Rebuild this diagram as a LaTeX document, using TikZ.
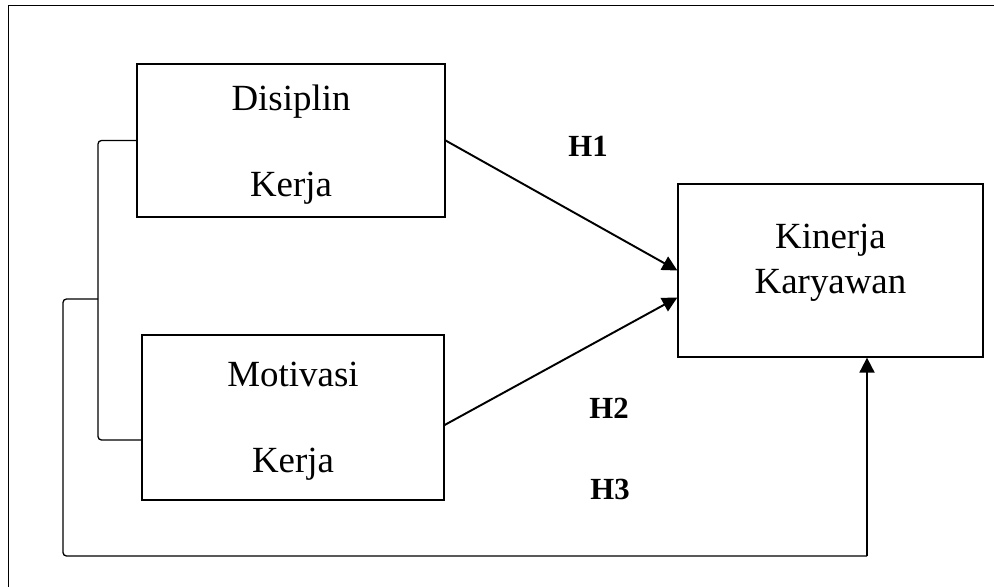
\documentclass[tikz,border=0pt]{standalone}
\usepackage{fontspec}
\setmainfont{Liberation Serif}
\usetikzlibrary{arrows.meta,calc}

\begin{document}
\begin{tikzpicture}[x=0.02cm,y=-0.02cm,
    kotak/.style={draw,line width=0.75pt,inner sep=0pt,align=center,
        font=\fontsize{21}{25.5}\selectfont},
    garis/.style={line width=0.75pt,rounded corners=2pt},
    panah/.style={line width=1.1pt,-{Triangle[length=0.3cm,width=0.3cm]}},
    hipotesis/.style={font=\fontsize{17.5}{21}\selectfont\bfseries}]
        \useasboundingbox (0,0) rectangle (994,586);
        \clip (0,0) rectangle (994,586);
        %Bingkai
        \draw[line width=1.1pt] (8.5,5.5) rectangle (1010,600);
        %Kotak variabel
        \node[kotak,minimum width=6.16cm,minimum height=3.06cm,text depth=0pt]
            (disiplin) at (291,140.5) {Disiplin\\[23.4pt]Kerja};
        \node[kotak,minimum width=6.04cm,minimum height=3.3cm,text depth=0pt]
            (motivasi) at (293,417.5) {Motivasi\\[23.4pt]Kerja};
        \node[kotak,minimum width=6.1cm,minimum height=3.46cm,text depth=13pt]
            (kinerja) at (830.5,270.5) {Kinerja\\Karyawan};
        %Titik bantu
        \coordinate (kiri1) at (98,299);
        \coordinate (kiri2) at (63,299);
        \coordinate (ujung) at (867,556);
        \coordinate (bawahM) at ([yshift=-0.45cm]motivasi.west);
        %Kurung kiri
        \draw[garis] (disiplin.west) -- (disiplin.west -| kiri1) -- (kiri1 |- bawahM) -- (bawahM);
        \draw[garis] (kiri1) -- (kiri2) -- (kiri2 |- ujung) -- (ujung);
        %Panah
        \draw[panah] (disiplin.east) -- (kinerja.west);
        \draw[panah] ([yshift=-0.15cm]motivasi.east) -- ([yshift=-0.54cm]kinerja.west);
        \draw[panah] (ujung) -- (ujung |- kinerja.south);
        %Label
        \node[hipotesis] (h1) at (588,146.5) {H1};
        \node[hipotesis] (h2) at (609,408) {H2};
        \node[hipotesis] (h3) at (610,489.5) {H3};
\end{tikzpicture}
\end{document}
